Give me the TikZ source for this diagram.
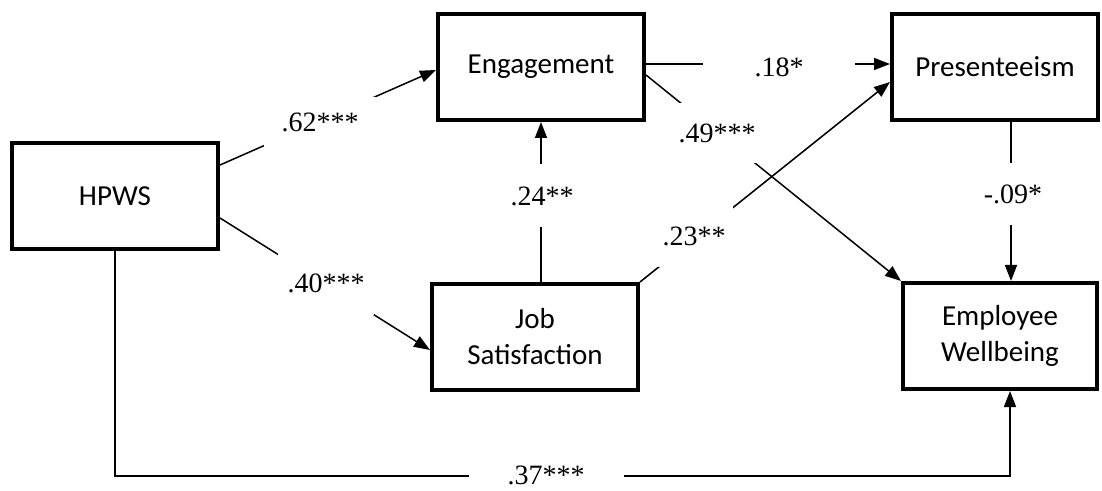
\documentclass[tikz,border=0pt]{standalone}
\usepackage{fontspec}
\setmainfont{Liberation Serif}
\newfontfamily\boxfont{Carlito}
\usetikzlibrary{arrows.meta}

\begin{document}
\begin{tikzpicture}[x=0.5pt,y=-0.5pt,
	var/.style={shape=rectangle,draw=black,line width=2pt,minimum width=103pt,minimum height=53pt,align=center,font=\boxfont\fontsize{14.5}{18}\selectfont},
	coef/.style={fill=white,inner sep=0pt,font=\fontsize{14}{16}\selectfont},
	link/.style={line width=0.75pt,-{Triangle[length=8pt,width=6pt]}}]
	\useasboundingbox (0,0) rectangle (1102,491);

	\node[var] (H) at (115,196) {HPWS};
	\node[var] (E) at (541,67) {Engagement};
	\node[var] (P) at (995,67) {Presenteeism};
	\node[var] (J) at (535,337) {Job\\Satisfaction};
	\node[var,minimum width=97pt] (W) at (1000,336) {Employee\\Wellbeing};
	\coordinate (c) at (1010,476);

	\draw[link] ([yshift=15.5pt]H.east) -- ([yshift=-1.5pt]E.west);
	\draw[link] ([yshift=-11pt]H.east) -- ([yshift=-6.5pt]J.west);
	\draw[link] ([yshift=1.5pt]E.east) -- ([yshift=1.5pt]P.west);
	\draw[link] ([yshift=-4pt]E.east) -- (W.north west);
	\draw[link] (J.north east) -- ([yshift=-7.5pt]P.west);
	\draw[link] (J.north -| E.south) -- (E.south);
	\draw[link] ([xshift=8pt]P.south) -- ([xshift=5.5pt]W.north);
	\draw[link] (H.south) |- (c) -- (c |- W.south);

	\node[coef,minimum width=56pt,minimum height=25pt] (l1) at (320,122) {.62***};
	\node[coef,minimum width=48pt,minimum height=32pt] (l2) at (326,283) {.40***};
	\node[coef,minimum width=76pt,minimum height=20pt] (l3) at (779,67) {.18*};
	\node[coef,minimum width=39pt,minimum height=30pt] (l4) at (717,133) {.49***};
	\node[coef,minimum width=38.5pt,minimum height=31.5pt] (l5) at (694,236) {.23**};
	\node[coef,minimum width=34pt,minimum height=31.5pt] (l6) at (542,196) {.24**};
	\node[coef,minimum width=28pt,minimum height=31pt] (l7) at (1013,194) {-.09*};
	\node[coef,minimum width=77.5pt,minimum height=14pt] (l8) at (546,475) {.37***};
\end{tikzpicture}
\end{document}
